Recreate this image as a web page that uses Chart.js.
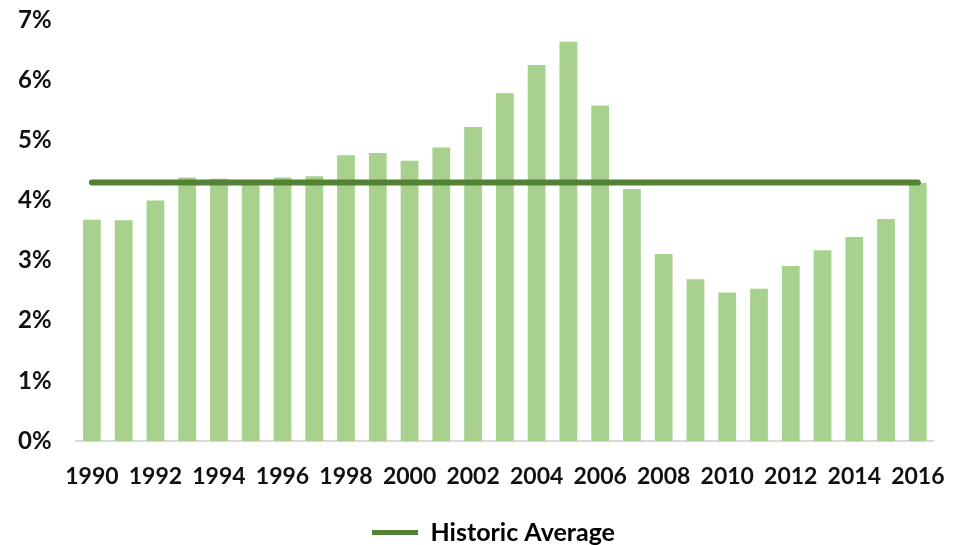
<!DOCTYPE html>
<html>
<head>
<meta charset="utf-8">
<script src="https://cdn.jsdelivr.net/npm/chart.js@4/dist/chart.umd.min.js"></script>
<style>
  html, body { margin: 0; padding: 0; background: #ffffff; }
  #wrap { width: 967px; height: 545px; }
</style>
</head>
<body>
<div id="wrap"><canvas id="chart" width="967" height="545"></canvas></div>
<script>
// Years on the category axis
const years = [1990, 1991, 1992, 1993, 1994, 1995, 1996, 1997, 1998, 1999,
               2000, 2001, 2002, 2003, 2004, 2005, 2006, 2007, 2008, 2009,
               2010, 2011, 2012, 2013, 2014, 2015, 2016];

// Annual rate, in percent
const rates = [3.68, 3.67, 4.00, 4.38, 4.36, 4.28, 4.38, 4.40, 4.75, 4.79,
               4.66, 4.88, 5.22, 5.78, 6.25, 6.64, 5.58, 4.19, 3.11, 2.69,
               2.47, 2.53, 2.91, 3.17, 3.39, 3.69, 4.29];

// Long-run average, in percent
const historicAverage = 4.3;

// Y-axis tick values, in percent
const yTicks = [0, 1, 2, 3, 4, 5, 6, 7];

const barColor = '#a9d18e';
const lineColor = '#548235';
const fontFamily = 'Lato, "Open Sans", sans-serif';

// Plot box edges on the canvas
const plotLeft = 76;
const padLeft = 46;

new Chart(document.getElementById('chart'), {
  type: 'bar',
  data: {
    labels: years.map(String),
    datasets: [
      {
        type: 'bar',
        label: 'Rate',
        data: rates,
        backgroundColor: barColor,
        borderWidth: 0,
        barPercentage: 0.56,
        categoryPercentage: 1.0,
        order: 2
      },
      {
        type: 'line',
        label: 'Historic Average',
        data: years.map(() => historicAverage),
        borderColor: lineColor,
        backgroundColor: lineColor,
        borderWidth: 6,
        borderCapStyle: 'round',
        pointRadius: 0,
        fill: false,
        order: 1
      }
    ]
  },
  options: {
    responsive: false,
    animation: false,
    layout: { padding: { left: padLeft, right: 26, top: 20, bottom: -10 } },
    plugins: {
      tooltip: { enabled: false },
      legend: {
        position: 'bottom',
        labels: {
          color: '#111111',
          font: { family: fontFamily, size: 25, weight: 'bold' },
          boxWidth: 46,
          boxHeight: 5,
          padding: 10,
          filter: item => item.datasetIndex === 1,
          generateLabels: () => [{
            text: 'Historic Average',
            fillStyle: lineColor,
            strokeStyle: lineColor,
            lineWidth: 0,
            datasetIndex: 1,
            hidden: false
          }]
        }
      }
    },
    scales: {
      x: {
        grid: { display: false, drawTicks: false },
        border: { display: true, color: '#d9d9d9', width: 2 },
        afterFit: scale => { scale.height = 69; },
        ticks: {
          autoSkip: false,
          maxRotation: 0,
          padding: 22,
          color: '#111111',
          font: { family: fontFamily, size: 23, weight: 'bold' },
          callback: (value, index) => (index % 2 === 0 ? years[index] : '')
        }
      },
      y: {
        min: yTicks[0],
        max: yTicks[yTicks.length - 1],
        grid: { display: false, drawTicks: false },
        border: { display: false },
        afterBuildTicks: scale => { scale.ticks = yTicks.map(v => ({ value: v })); },
        afterFit: scale => { scale.width = plotLeft - padLeft; },
        ticks: {
          mirror: true,
          padding: -58,
          color: '#111111',
          font: { family: fontFamily, size: 24, weight: 'bold' },
          callback: v => v + '%'
        }
      }
    }
  }
});
</script>
</body>
</html>
